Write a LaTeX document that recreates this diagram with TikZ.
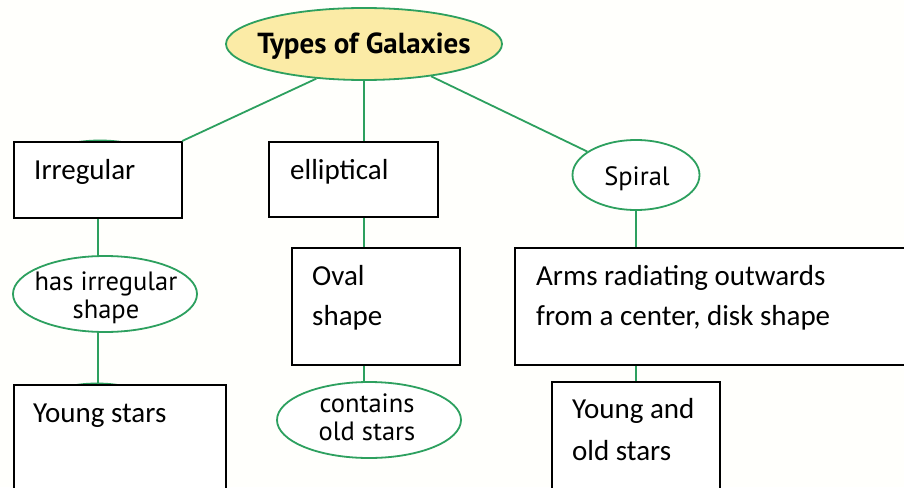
\documentclass[tikz,border=0pt]{standalone}
\usepackage{fontspec}
\setmainfont{Carlito}
\newfontfamily\ellfont{PT Sans}
\usetikzlibrary{shapes.geometric}
\definecolor{lgreen}{RGB}{45,160,95}
\definecolor{lyellow}{RGB}{251,235,166}
\tikzset{
 box/.style={draw=black, line width=2.2pt, fill=white, anchor=north west, inner sep=0pt},
 oval/.style={ellipse, draw=lgreen, line width=1.8pt, fill=white, inner sep=0pt},
 conn/.style={draw=lgreen, line width=1.8pt},
 btext/.style={anchor=base west, inner sep=0pt, font=\fontsize{29}{33}\selectfont},
 etext/.style={anchor=base, inner sep=0pt, font=\ellfont\fontsize{26.5}{30}\selectfont}
}
\begin{document}
\begin{tikzpicture}[x=1pt,y=-1pt]
\clip (0,0) rectangle (904,487);
\fill[white!99!yellow] (0,0) rectangle (904,487);
% hidden ellipses peeking above boxes
\node[oval, minimum width=150, minimum height=72] (hid1) at (100,176.5) {};
\node[oval, minimum width=150, minimum height=76] (hid2) at (97,421.5) {};
% top
\node[oval, fill=lyellow, minimum width=276, minimum height=72] (top) at (364,44) {};
\node[etext, font=\ellfont\bfseries\fontsize{29}{31}\selectfont] (toptx) at (364,53) {Types of Galaxies};
% level 1
\node[box, minimum width=168, minimum height=76] (irr) at (13,141) {};
\node[btext] (irrtx) at (34,179) {Irregular};
\node[box, minimum width=169, minimum height=75] (ell) at (268,141) {};
\node[btext] (elltx) at (290,179) {elliptical};
\node[oval, minimum width=127, minimum height=70] (spiral) at (636,175) {};
\node[etext] (spiraltx) at (637,185) {Spiral};
% level 2
\node[oval, minimum width=184, minimum height=76] (hasirr) at (105,294) {};
\node[etext] (hasirrtx1) at (106,290) {has irregular};
\node[etext] (hasirrtx2) at (106,318) {shape};
\node[box, minimum width=168, minimum height=117] (ovalbox) at (291,247) {};
\node[btext] (ovaltx1) at (312,285) {Oval};
\node[btext] (ovaltx2) at (312,325) {shape};
\node[box, minimum width=420, minimum height=117] (arms) at (514,247) {};
\node[btext] (armstx1) at (536,285) {Arms radiating outwards};
\node[btext] (armstx2) at (536,325) {from a center, disk shape};
% level 3
\node[box, minimum width=212, minimum height=130] (young) at (13,384) {};
\node[btext] (youngtx) at (33,422) {Young stars};
\node[oval, minimum width=184, minimum height=76] (contains) at (369,420) {};
\node[etext] (containstx1) at (367,412) {contains};
\node[etext] (containstx2) at (367,440) {old stars};
\node[box, minimum width=168, minimum height=130] (yao) at (551,381) {};
\node[btext] (yaotx1) at (572,418) {Young and};
\node[btext] (yaotx2) at (572,460) {old stars};
% connectors
\draw[conn] (top.216) -- (irr);
\draw[conn] (top) -- (spiral);
\draw[conn] (top.south) -- (top.south |- ell.north);
\draw[conn] (top.south |- ell.south) -- (top.south |- ovalbox.north);
\draw[conn] (top.south |- ovalbox.south) -- (top.south |- contains.north);
\draw[conn] (irr.south) -- (irr.south |- hasirr.north);
\draw[conn] (irr.south |- hasirr.south) -- (irr.south |- young.north);
\draw[conn] (spiral.south) -- (spiral.south |- arms.north);
\draw[conn] (spiral.south |- arms.south) -- (spiral.south |- yao.north);
\end{tikzpicture}
\end{document}
